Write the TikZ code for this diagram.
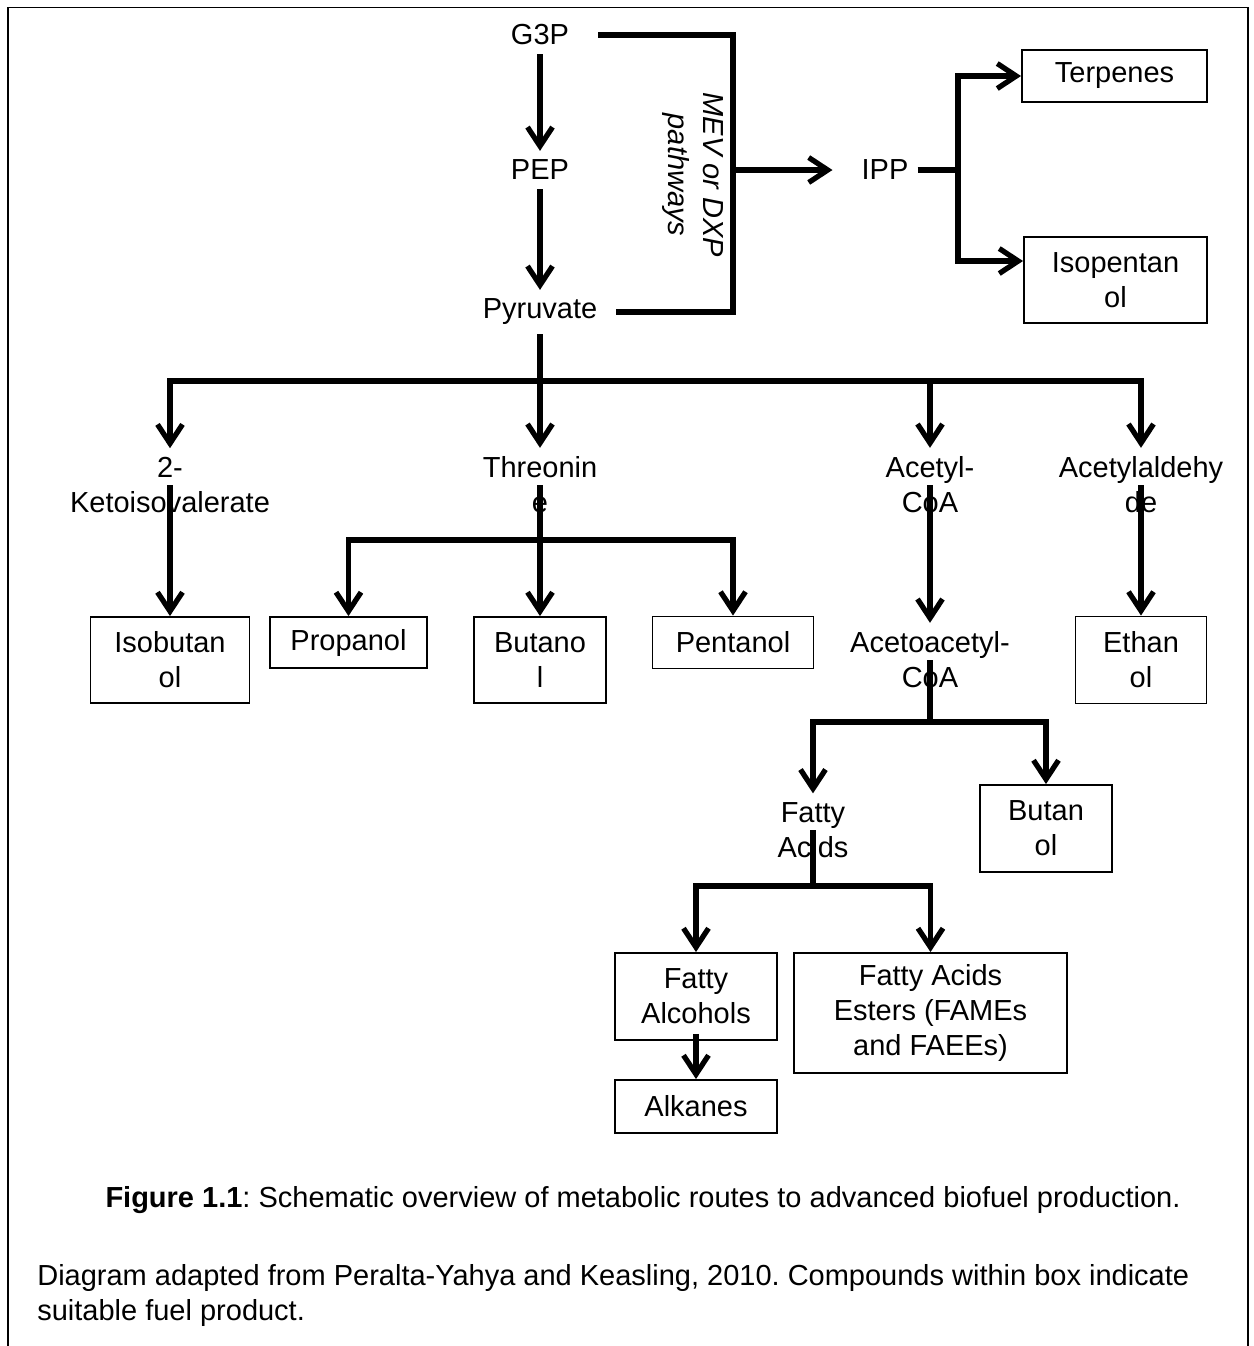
\documentclass[tikz,border=0pt]{standalone}
\usepackage{fontspec}
\setmainfont{Liberation Sans}
\usetikzlibrary{arrows.meta}
\definecolor{ink}{HTML}{000000}
\newcommand{\pathfont}{\fontsize{16.5}{19.8}\selectfont}
\frenchspacing
\tikzset{
 every node/.append style={font=\pathfont,text=ink,align=center},
 box/.style={draw=ink,fill=white,line width=1.1pt,inner sep=2pt},
 word/.style={inner sep=5pt},
 flow/.style={-{Straight Barb[length=3.8mm,width=5mm]},draw=ink,line width=3pt},
 route/.style={draw=ink,line width=3pt},
 frame/.style={draw=ink,line width=1.1pt},
}

\begin{document}
\begin{tikzpicture}

\useasboundingbox (0,0) rectangle (25.08,-26.92);
\draw[frame] (0.16,-26.92) -- (0.16,-0.15) -- (24.96,-0.15) -- (24.96,-26.92);

\node[word] (g3p) at (10.8,-0.7) {G3P};
\node[word] (pep) at (10.8,-3.4) {PEP};
\node[word] (pyr) at (10.8,-6.24) {Pyruvate};
\node[word] (ipp) at (17.7,-3.4) {IPP};
\node[word,font=\pathfont\itshape,rotate=-90] (mev) at (13.86,-3.5) {MEV or DXP\\pathways};

\node[box,minimum width=3.7cm,minimum height=1.04cm] (terp) at (22.29,-1.52) {Terpenes};
\node[box,minimum width=3.66cm,minimum height=1.72cm] (isopent) at (22.31,-5.6) {Isopentan\\ol};

\node[word] (keto) at (3.4,-9.7) {2-\\Ketoisovalerate};
\node[word] (thr) at (10.8,-9.7) {Threonin\\e};
\node[word] (acoa) at (18.6,-9.7) {Acetyl-\\CoA};
\node[word] (aald) at (22.82,-9.7) {Acetylaldehy\\de};

\node[box,minimum width=3.18cm,minimum height=1.72cm] (isobut) at (3.4,-13.2) {Isobutan\\ol};
\node[box,minimum width=3.14cm,minimum height=1.02cm] (prop) at (6.97,-12.85) {Propanol};
\node[box,minimum width=2.64cm,minimum height=1.72cm] (but) at (10.8,-13.2) {Butano\\l};
\node[box,minimum width=3.22cm,minimum height=1.04cm] (pent) at (14.66,-12.85) {Pentanol};
\node[word] (acac) at (18.6,-13.2) {Acetoacetyl-\\CoA};
\node[box,minimum width=2.62cm,minimum height=1.74cm] (eth) at (22.82,-13.2) {Ethan\\ol};

\node[word] (fatac) at (16.26,-16.6) {Fatty\\Acids};
\node[box,minimum width=2.64cm,minimum height=1.74cm] (but2) at (20.92,-16.57) {Butan\\ol};
\node[box,minimum width=3.24cm,minimum height=1.74cm] (falc) at (13.92,-19.93) {Fatty\\Alcohols};
\node[box,minimum width=5.46cm,minimum height=2.4cm] (fae) at (18.61,-20.26) {Fatty Acids\\Esters (FAMEs\\and FAEEs)};
\node[box,minimum width=3.24cm,minimum height=1.06cm] (alk) at (13.92,-22.13) {Alkanes};

\node[word] (caption) at (12.86,-24.0) {\textbf{Figure 1.1}: Schematic overview of metabolic routes to advanced biofuel production.};
\node[word,align=left,anchor=north west,inner sep=0pt] (note) at (0.74,-25.29) {Diagram adapted from Peralta-Yahya and Keasling, 2010. Compounds within box indicate\\suitable fuel product.};

\coordinate (mevjoin) at (14.66,-3.4);
\coordinate (ippfork) at (19.16,-3.4);
\coordinate (bar1) at (10.8,-7.62);
\coordinate (bar2) at (10.8,-10.8);
\coordinate (bar3) at (18.6,-14.44);
\coordinate (bar4) at (16.26,-17.72);

\draw[flow] (g3p) -- (pep);
\draw[flow] (pep) -- (pyr);
\draw[route] ([xshift=4mm]g3p.east) -| (mevjoin) |- ([xshift=2mm]pyr.east);
\draw[flow,shorten >=4mm] (mevjoin) -- (ipp.west);
\draw[route] (ipp.east) -- (ippfork);
\draw[flow] (ippfork) |- (terp.west);
\draw[flow] (ippfork) |- ([yshift=3.8mm]isopent.west);

\draw[flow] (pyr.south) -- (thr.north);
\draw[flow] (bar1) -| (keto.north);
\draw[flow] (bar1) -| (aald.north);
\draw[flow] (bar1 -| acoa) -- (acoa.north);

\draw[flow] (keto.center) -- (isobut.north);
\draw[flow] (thr.center) -- (but.north);
\draw[flow] (bar2) -| (prop.north);
\draw[flow] (bar2) -| (pent.north);
\draw[flow] (acoa.center) -- (acac.north);
\draw[flow] (aald.center) -- (eth.north);

\draw[route] (acac.center) -- (bar3);
\draw[flow] (bar3) -| (fatac.north);
\draw[flow] (bar3) -| (but2.north);
\draw[route] (fatac.center) -- (bar4);
\draw[flow] (bar4) -| (falc.north);
\draw[flow] (bar4) -| (fae.north);
\draw[flow] ([yshift=1.4mm]falc.south) -- (alk.north);

\end{tikzpicture}
\end{document}
